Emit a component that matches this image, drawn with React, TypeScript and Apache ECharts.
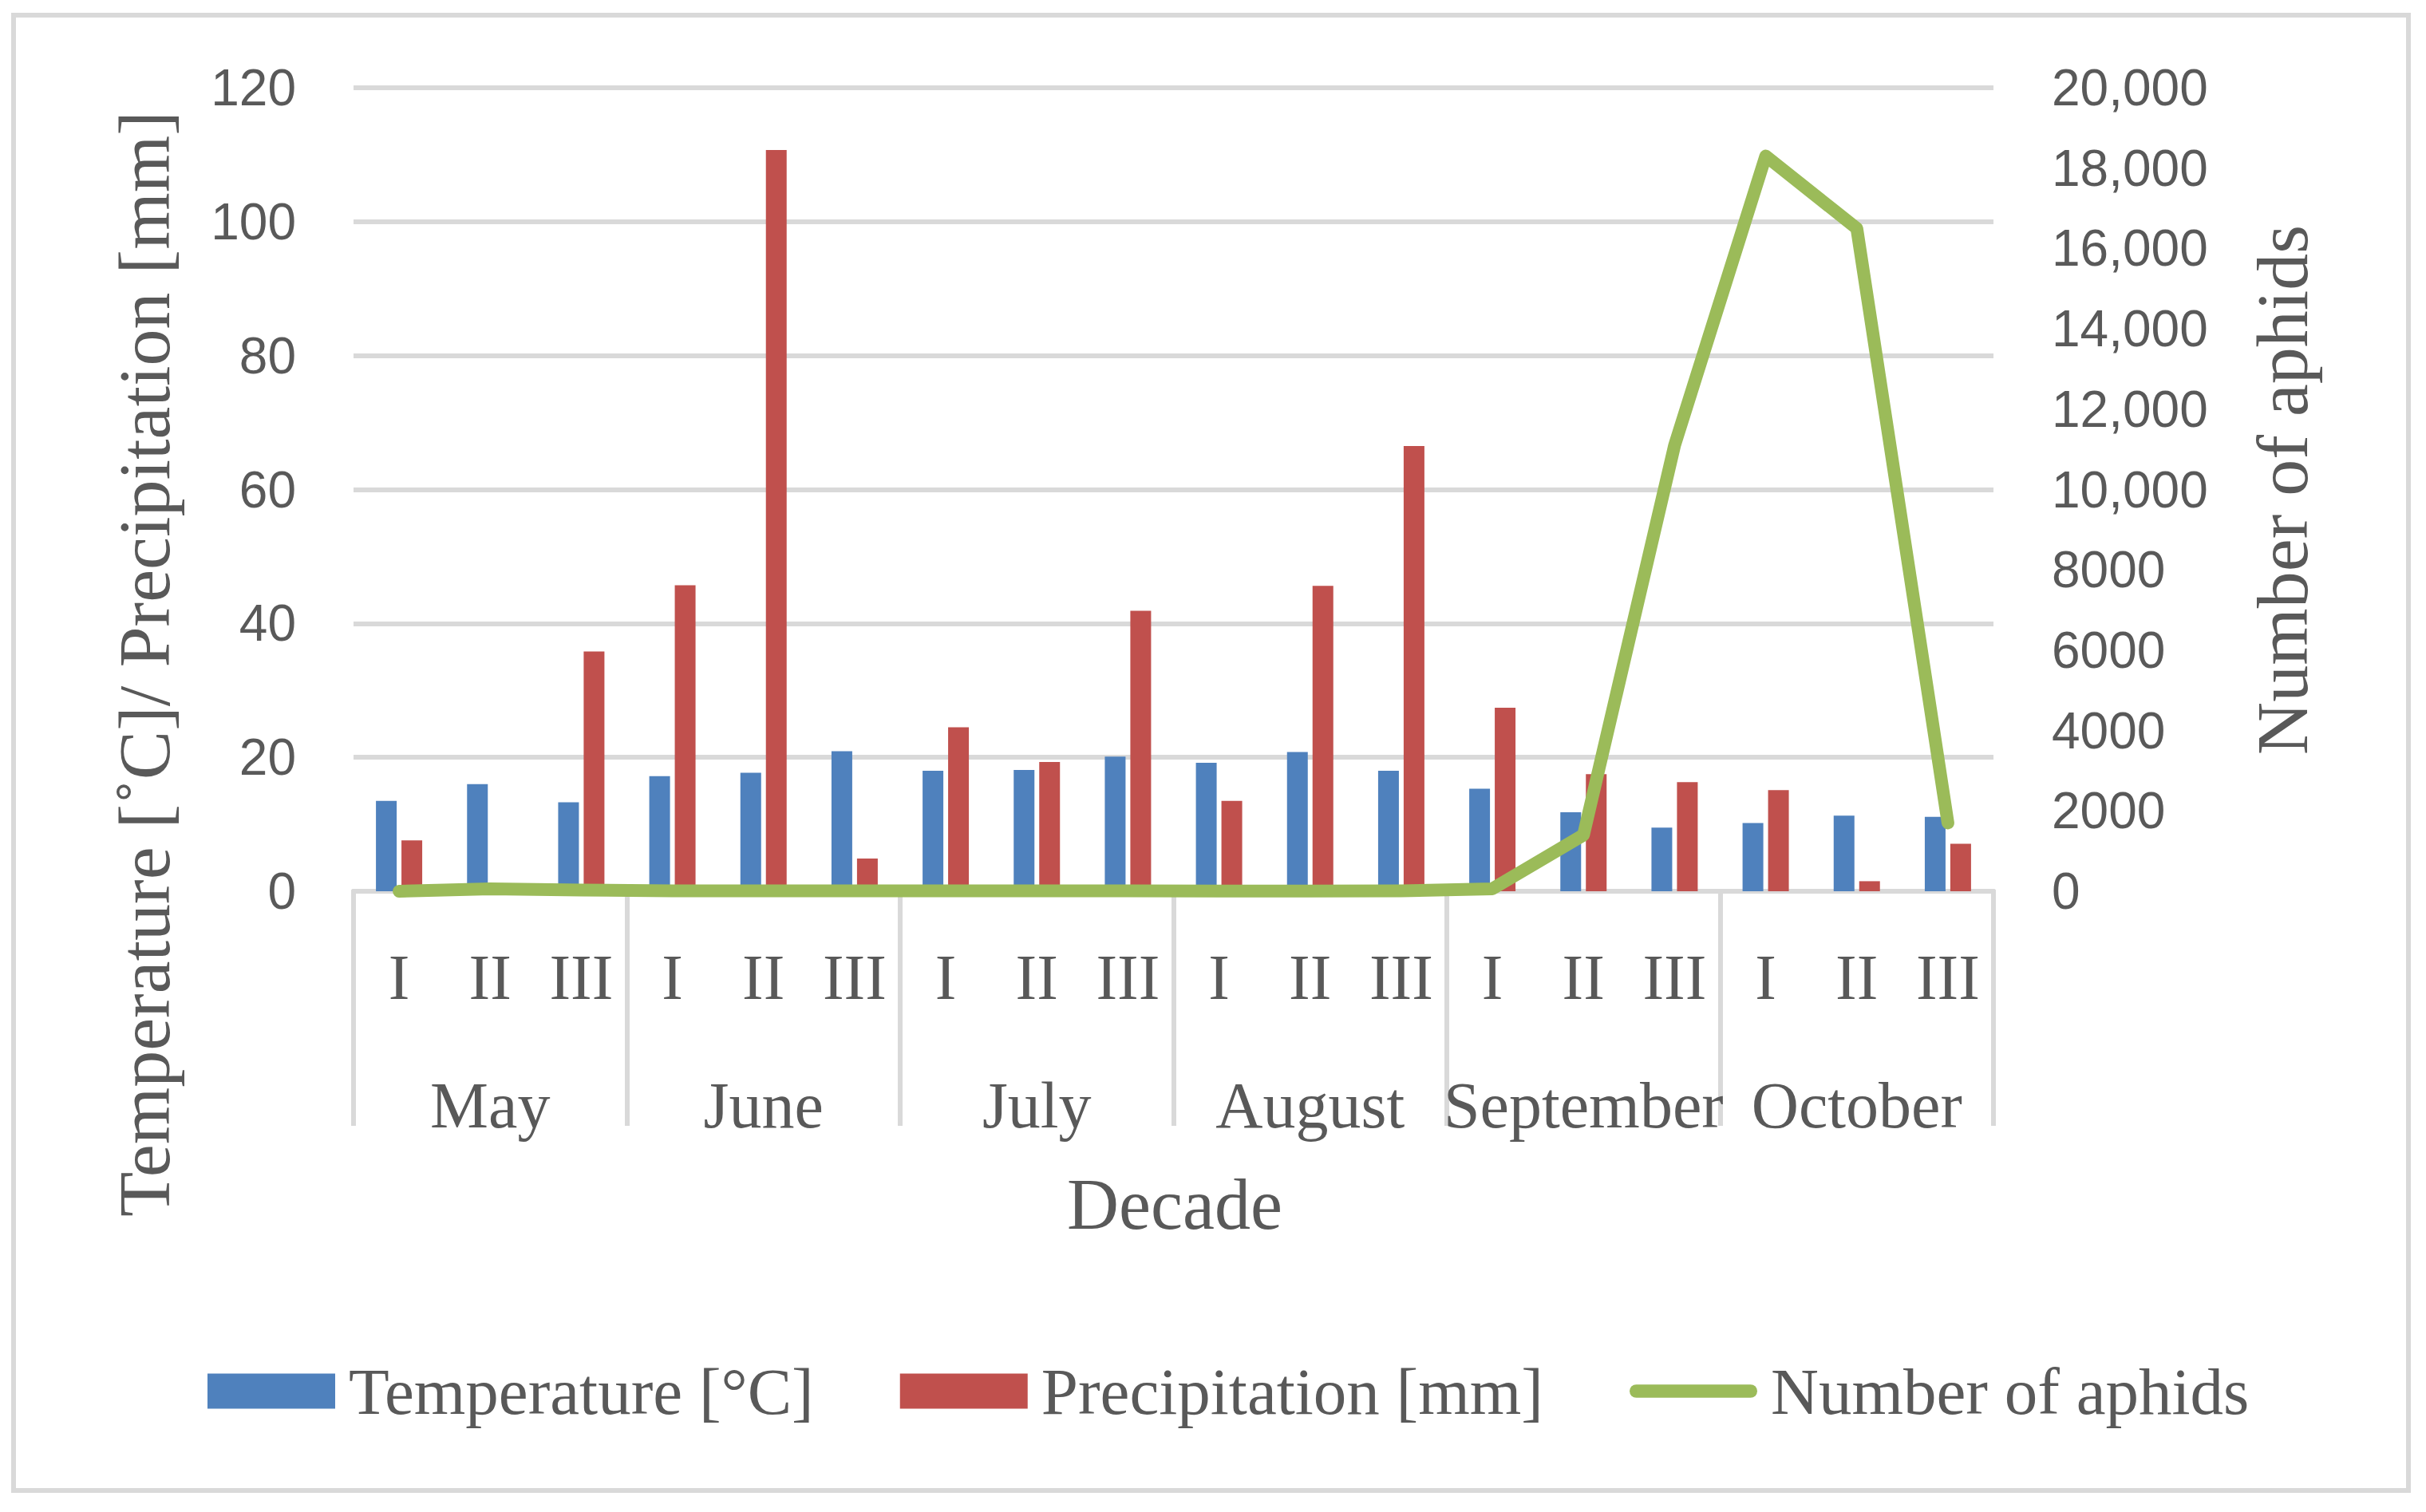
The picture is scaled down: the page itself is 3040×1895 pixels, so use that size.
import React, { useEffect, useRef } from "react";
import * as echarts from "echarts";

const decades = ["I", "II", "III", "I", "II", "III", "I", "II", "III", "I", "II", "III", "I", "II", "III", "I", "II", "III"];
const months = ["May", "June", "July", "August", "September", "October"];
const temperature = [13.5, 16.0, 13.3, 17.2, 17.7, 20.9, 18.0, 18.1, 20.1, 19.2, 20.8, 18.0, 15.3, 11.8, 9.5, 10.2, 11.3, 11.1];
const precipitation = [7.6, 0, 35.8, 45.7, 110.7, 4.9, 24.5, 19.3, 41.9, 13.5, 45.6, 66.5, 27.4, 17.5, 16.3, 15.1, 1.5, 7.1];
const aphids = [0, 60, 30, 10, 10, 10, 10, 10, 10, 5, 5, 10, 60, 1400, 11100, 18300, 16500, 1700];
const leftTicks = { min: 0, max: 120, interval: 20 };
const rightTicks = { min: 0, max: 20000, interval: 2000 };

const SERIF = "'Liberation Serif', 'DejaVu Serif', serif";
const SANS = "'Liberation Sans', Arial, sans-serif";
const TXT = "#595959";
const GRID = "#D9D9D9";
const LINE_ICON = "path://M9,0 L163,0 A9,9 0 0 1 163,18 L9,18 A9,9 0 0 1 9,0 Z";

export default function App() {
  const ref = useRef<HTMLDivElement>(null);
  useEffect(() => {
    if (!ref.current) return;
    const chart = echarts.init(ref.current, undefined, { renderer: "svg" });
    const option: any = {
      animation: false,
      backgroundColor: "#ffffff",
      textStyle: { fontFamily: SERIF, color: TXT },
      grid: { left: 443, right: 542, top: 110, bottom: 778, containLabel: false },
      legend: {
        left: 255,
        top: 1697,
        itemWidth: 160,
        itemHeight: 44,
        itemGap: 108,
        textStyle: { fontFamily: SERIF, fontSize: 83, lineHeight: 83, color: TXT, padding: [0, 0, 0, 12] },
        data: [
          { name: "Temperature [°C]", icon: "rect" },
          { name: "Precipitation [mm]", icon: "rect" },
          { name: "Number of aphids", icon: LINE_ICON, itemStyle: { color: "#9BBB59", borderWidth: 0 } },
        ],
      },
      xAxis: [
        {
          type: "category",
          data: decades,
          position: "bottom",
          axisLine: { show: true, lineStyle: { color: GRID, width: 6 } },
          axisTick: { show: false },
          axisLabel: { interval: 0, margin: 68, fontFamily: SERIF, fontSize: 80, lineHeight: 80, color: TXT },
        },
        {
          type: "category",
          data: months,
          position: "bottom",
          axisLine: { show: true, lineStyle: { color: GRID, width: 6 } },
          axisTick: { show: true, interval: 0, length: 294, lineStyle: { color: GRID, width: 6 } },
          axisLabel: { interval: 0, margin: 227, fontFamily: SERIF, fontSize: 82, lineHeight: 82, color: TXT },
        },
      ],
      yAxis: [
        {
          type: "value",
          position: "left",
          min: leftTicks.min,
          max: leftTicks.max,
          interval: leftTicks.interval,
          axisLine: { show: false },
          axisTick: { show: false },
          splitLine: { show: true, lineStyle: { color: GRID, width: 6 } },
          axisLabel: { margin: 72, fontFamily: SANS, fontSize: 64, color: TXT },
        },
        {
          type: "value",
          position: "right",
          min: rightTicks.min,
          max: rightTicks.max,
          interval: rightTicks.interval,
          axisLine: { show: false },
          axisTick: { show: false },
          splitLine: { show: false },
          axisLabel: {
            margin: 73,
            fontFamily: SANS,
            fontSize: 64,
            color: TXT,
            formatter: (v: number) => (v >= 10000 ? v.toLocaleString("en-US") : String(v)),
          },
        },
      ],
      series: [
        {
          name: "Temperature [°C]",
          type: "bar",
          xAxisIndex: 0,
          yAxisIndex: 0,
          data: temperature,
          barWidth: 26,
          barGap: "23%",
          itemStyle: { color: "#4F81BD" },
        },
        {
          name: "Precipitation [mm]",
          type: "bar",
          xAxisIndex: 0,
          yAxisIndex: 0,
          data: precipitation,
          barWidth: 26,
          barGap: "23%",
          itemStyle: { color: "#C0504D" },
        },
        {
          name: "Number of aphids",
          type: "line",
          xAxisIndex: 0,
          yAxisIndex: 1,
          data: aphids,
          symbol: "none",
          z: 5,
          itemStyle: { color: "#9BBB59" },
          lineStyle: { color: "#9BBB59", width: 16, cap: "round", join: "round" },
        },
      ],
      graphic: [
        {
          type: "rect",
          shape: { x: 17, y: 19, width: 3001, height: 1849 },
          style: { fill: "none", stroke: GRID, lineWidth: 6 },
          z: -10,
        },
        {
          type: "text",
          x: 181,
          y: 832,
          rotation: Math.PI / 2,
          style: {
            text: "Temperature [˚C]/ Precipitation [mm]",
            font: `92px ${SERIF}`,
            fill: TXT,
            align: "center",
            verticalAlign: "middle",
          },
        },
        {
          type: "text",
          x: 2860,
          y: 614,
          rotation: Math.PI / 2,
          style: {
            text: "Number of aphids",
            font: `92px ${SERIF}`,
            fill: TXT,
            align: "center",
            verticalAlign: "middle",
          },
        },
        {
          type: "text",
          x: 1472,
          y: 1509,
          style: {
            text: "Decade",
            font: `90px ${SERIF}`,
            fill: TXT,
            align: "center",
            verticalAlign: "middle",
          },
        },
      ],
    };
    chart.setOption(option);
    return () => chart.dispose();
  }, []);
  return (
    <div
      ref={ref}
      style={{ position: "fixed", left: 0, top: 0, width: 3040, height: 1895, background: "#fff" }}
    />
  );
}
